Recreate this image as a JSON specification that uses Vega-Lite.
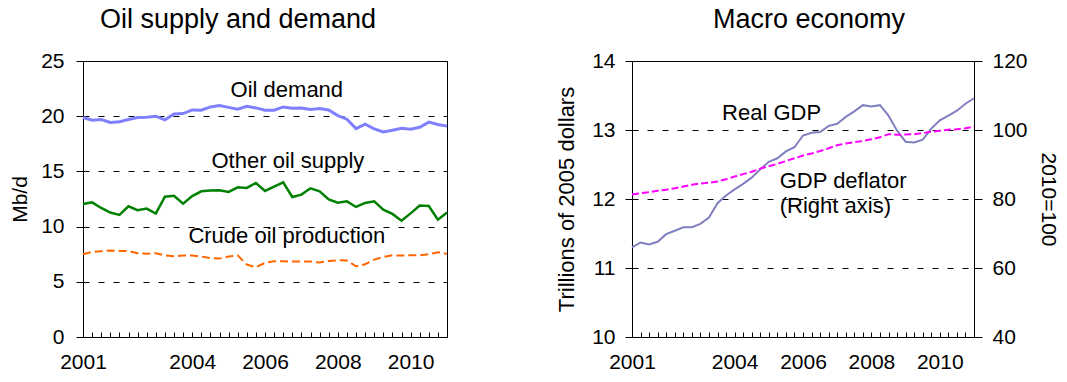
{
  "$schema": "https://vega.github.io/schema/vega-lite/v6.json",
  "padding": {"left": 9, "top": 5, "right": 8, "bottom": 0},
  "spacing": 101,
  "config": {
    "font": "Liberation Sans",
    "view": {"stroke": "black", "strokeWidth": 1},
    "axis": {"labelFont": "Liberation Sans", "labelFontSize": 21, "labelColor": "black", "titleFont": "Liberation Sans", "titleFontSize": 21, "titleFontWeight": "normal", "titleColor": "black", "domainColor": "black", "tickColor": "black", "grid": false},
    "title": {"font": "Liberation Sans", "fontSize": 27, "fontWeight": "normal", "color": "black", "anchor": "middle"},
    "text": {"font": "Liberation Sans"}
  },
  "datasets": {
    "series": [
      {"t": 2001, "demand": 19.88, "other": 12.05, "crude": 7.5, "gdp": 11.30, "deflator": 81.3},
      {"t": 2001.25, "demand": 19.64, "other": 12.2, "crude": 7.71, "gdp": 11.37, "deflator": 81.7},
      {"t": 2001.5, "demand": 19.7, "other": 11.69, "crude": 7.77, "gdp": 11.34, "deflator": 82.0},
      {"t": 2001.75, "demand": 19.43, "other": 11.27, "crude": 7.83, "gdp": 11.38, "deflator": 82.4},
      {"t": 2002, "demand": 19.5, "other": 11.06, "crude": 7.8, "gdp": 11.49, "deflator": 82.7},
      {"t": 2002.25, "demand": 19.7, "other": 11.84, "crude": 7.8, "gdp": 11.54, "deflator": 83.1},
      {"t": 2002.5, "demand": 19.88, "other": 11.48, "crude": 7.59, "gdp": 11.59, "deflator": 83.6},
      {"t": 2002.75, "demand": 19.9, "other": 11.63, "crude": 7.53, "gdp": 11.59, "deflator": 84.1},
      {"t": 2003, "demand": 20.0, "other": 11.18, "crude": 7.59, "gdp": 11.64, "deflator": 84.5},
      {"t": 2003.25, "demand": 19.67, "other": 12.71, "crude": 7.38, "gdp": 11.73, "deflator": 84.7},
      {"t": 2003.5, "demand": 20.2, "other": 12.8, "crude": 7.32, "gdp": 11.94, "deflator": 85.1},
      {"t": 2003.75, "demand": 20.24, "other": 12.08, "crude": 7.38, "gdp": 12.05, "deflator": 85.7},
      {"t": 2004, "demand": 20.57, "other": 12.77, "crude": 7.38, "gdp": 12.14, "deflator": 86.5},
      {"t": 2004.25, "demand": 20.54, "other": 13.2, "crude": 7.29, "gdp": 12.22, "deflator": 87.2},
      {"t": 2004.5, "demand": 20.84, "other": 13.26, "crude": 7.14, "gdp": 12.31, "deflator": 87.9},
      {"t": 2004.75, "demand": 20.96, "other": 13.29, "crude": 7.1, "gdp": 12.43, "deflator": 88.8},
      {"t": 2005, "demand": 20.8, "other": 13.14, "crude": 7.29, "gdp": 12.54, "deflator": 89.5},
      {"t": 2005.25, "demand": 20.63, "other": 13.56, "crude": 7.4, "gdp": 12.59, "deflator": 90.2},
      {"t": 2005.5, "demand": 20.9, "other": 13.5, "crude": 6.56, "gdp": 12.69, "deflator": 91.0},
      {"t": 2005.75, "demand": 20.75, "other": 13.95, "crude": 6.32, "gdp": 12.75, "deflator": 91.8},
      {"t": 2006, "demand": 20.54, "other": 13.23, "crude": 6.71, "gdp": 12.92, "deflator": 92.6},
      {"t": 2006.25, "demand": 20.54, "other": 13.62, "crude": 6.86, "gdp": 12.96, "deflator": 93.2},
      {"t": 2006.5, "demand": 20.84, "other": 14.0, "crude": 6.86, "gdp": 12.97, "deflator": 93.9},
      {"t": 2006.75, "demand": 20.72, "other": 12.68, "crude": 6.83, "gdp": 13.06, "deflator": 94.7},
      {"t": 2007, "demand": 20.75, "other": 12.9, "crude": 6.83, "gdp": 13.09, "deflator": 95.6},
      {"t": 2007.25, "demand": 20.6, "other": 13.47, "crude": 6.83, "gdp": 13.19, "deflator": 96.1},
      {"t": 2007.5, "demand": 20.7, "other": 13.2, "crude": 6.74, "gdp": 13.27, "deflator": 96.5},
      {"t": 2007.75, "demand": 20.57, "other": 12.47, "crude": 6.89, "gdp": 13.36, "deflator": 96.8},
      {"t": 2008, "demand": 20.06, "other": 12.17, "crude": 6.95, "gdp": 13.34, "deflator": 97.3},
      {"t": 2008.25, "demand": 19.73, "other": 12.29, "crude": 6.92, "gdp": 13.36, "deflator": 97.9},
      {"t": 2008.5, "demand": 18.88, "other": 11.78, "crude": 6.41, "gdp": 13.21, "deflator": 98.8},
      {"t": 2008.75, "demand": 19.28, "other": 12.14, "crude": 6.59, "gdp": 12.99, "deflator": 98.6},
      {"t": 2009, "demand": 18.85, "other": 12.29, "crude": 7.01, "gdp": 12.83, "deflator": 98.7},
      {"t": 2009.25, "demand": 18.58, "other": 11.54, "crude": 7.26, "gdp": 12.82, "deflator": 98.8},
      {"t": 2009.5, "demand": 18.73, "other": 11.15, "crude": 7.4, "gdp": 12.86, "deflator": 99.1},
      {"t": 2009.75, "demand": 18.91, "other": 10.54, "crude": 7.38, "gdp": 13.02, "deflator": 99.5},
      {"t": 2010, "demand": 18.82, "other": 11.2, "crude": 7.4, "gdp": 13.14, "deflator": 99.8},
      {"t": 2010.25, "demand": 19.0, "other": 11.9, "crude": 7.4, "gdp": 13.21, "deflator": 100.1},
      {"t": 2010.5, "demand": 19.46, "other": 11.87, "crude": 7.5, "gdp": 13.28, "deflator": 100.2},
      {"t": 2010.75, "demand": 19.25, "other": 10.63, "crude": 7.68, "gdp": 13.38, "deflator": 100.5},
      {"t": 2011, "demand": 19.1, "other": 11.27, "crude": 7.53, "gdp": 13.46, "deflator": 101.0}
    ],
    "oilLabels": [
      {"t": 2006.6, "v": 21.74, "label": "Oil demand"},
      {"t": 2006.63, "v": 15.28, "label": "Other oil supply"},
      {"t": 2006.6, "v": 8.54, "label": "Crude oil production"}
    ],
    "macroCenter": [
      {"t": 2005.08, "v": 13.14, "label": "Real GDP"}
    ],
    "macroLeft": [
      {"t": 2005.32, "v": 12.16, "label": "GDP deflator"},
      {"t": 2005.32, "v": 11.79, "label": "(Right axis)"}
    ]
  },
  "hconcat": [
    {
      "title": {"text": "Oil supply and demand", "offset": 16, "dx": -27},
      "width": 364,
      "height": 276,
      "data": {"name": "series"},
      "encoding": {
        "x": {"field": "t", "type": "quantitative", "scale": {"domain": [2001, 2011], "nice": false, "zero": false},
          "axis": {"title": null, "values": [2001, 2001.25, 2001.5, 2001.75, 2002, 2002.25, 2002.5, 2002.75, 2003, 2003.25, 2003.5, 2003.75, 2004, 2004.25, 2004.5, 2004.75, 2005, 2005.25, 2005.5, 2005.75, 2006, 2006.25, 2006.5, 2006.75, 2007, 2007.25, 2007.5, 2007.75, 2008, 2008.25, 2008.5, 2008.75, 2009, 2009.25, 2009.5, 2009.75, 2010, 2010.25, 2010.5, 2010.75, 2011],
            "labelExpr": "indexof([2001, 2004, 2006, 2008, 2010], datum.value) >= 0 ? format(datum.value, 'd') : ''",
            "tickSize": -5, "labelPadding": 19, "labelOverlap": false, "labelFlush": false, "grid": false}}
      },
      "layer": [
        {
          "mark": {"type": "line", "color": "#8080FF", "strokeWidth": 3},
          "encoding": {
            "y": {"field": "demand", "type": "quantitative", "scale": {"domain": [0, 25], "nice": false},
              "axis": {"title": "Mb/d", "values": [0, 5, 10, 15, 20, 25], "format": "d", "tickSize": 7, "labelPadding": 12, "titlePadding": 10, "grid": true, "gridDash": [6, 9], "gridColor": "black", "gridWidth": 1}}
          }
        },
        {
          "mark": {"type": "line", "color": "#008000", "strokeWidth": 2.5},
          "encoding": {
            "y": {"field": "other", "type": "quantitative"}
          }
        },
        {
          "mark": {"type": "line", "color": "#FF6600", "strokeWidth": 2, "strokeDash": [8, 4]},
          "encoding": {
            "y": {"field": "crude", "type": "quantitative"}
          }
        },
        {
          "data": {"name": "oilLabels"},
          "mark": {"type": "text", "fontSize": 22, "align": "center", "baseline": "alphabetic", "color": "black"},
          "encoding": {
            "y": {"field": "v", "type": "quantitative"},
            "text": {"field": "label"}
          }
        }
      ]
    },
    {
      "title": {"text": "Macro economy", "offset": 16, "dx": 6},
      "width": 342,
      "height": 276,
      "encoding": {
        "x": {"field": "t", "type": "quantitative", "scale": {"domain": [2001, 2011], "nice": false, "zero": false},
          "axis": {"title": null, "values": [2001, 2001.25, 2001.5, 2001.75, 2002, 2002.25, 2002.5, 2002.75, 2003, 2003.25, 2003.5, 2003.75, 2004, 2004.25, 2004.5, 2004.75, 2005, 2005.25, 2005.5, 2005.75, 2006, 2006.25, 2006.5, 2006.75, 2007, 2007.25, 2007.5, 2007.75, 2008, 2008.25, 2008.5, 2008.75, 2009, 2009.25, 2009.5, 2009.75, 2010, 2010.25, 2010.5, 2010.75, 2011],
            "labelExpr": "indexof([2001, 2004, 2006, 2008, 2010], datum.value) >= 0 ? format(datum.value, 'd') : ''",
            "tickSize": -5, "labelPadding": 19, "labelOverlap": false, "labelFlush": false, "grid": false}}
      },
      "layer": [
        {
          "layer": [
            {
              "data": {"name": "series"},
              "mark": {"type": "line", "color": "#8080C0", "strokeWidth": 2},
              "encoding": {
                "y": {"field": "gdp", "type": "quantitative", "scale": {"domain": [10, 14], "nice": false, "zero": false},
                  "axis": {"title": "Trillions of 2005 dollars", "titleFontSize": 22, "values": [10, 11, 12, 13, 14], "format": "d", "tickSize": 7, "labelPadding": 10, "titlePadding": 13, "grid": true, "gridDash": [6, 9], "gridColor": "black", "gridWidth": 1}}
              }
            },
            {
              "data": {"name": "macroCenter"},
              "mark": {"type": "text", "fontSize": 22, "align": "center", "baseline": "alphabetic", "color": "black"},
              "encoding": {
                "y": {"field": "v", "type": "quantitative"},
                "text": {"field": "label"}
              }
            },
            {
              "data": {"name": "macroLeft"},
              "mark": {"type": "text", "fontSize": 22, "align": "left", "baseline": "alphabetic", "color": "black"},
              "encoding": {
                "y": {"field": "v", "type": "quantitative"},
                "text": {"field": "label"}
              }
            }
          ]
        },
        {
          "data": {"name": "series"},
          "mark": {"type": "line", "color": "#FF00FF", "strokeWidth": 2, "strokeDash": [7, 3]},
          "encoding": {
            "y": {"field": "deflator", "type": "quantitative", "scale": {"domain": [40, 120], "nice": false, "zero": false},
              "axis": {"orient": "right", "title": "2010=100", "values": [40, 60, 80, 100, 120], "format": "d", "tickSize": 8, "labelPadding": 10, "titlePadding": 10, "grid": false}}
          }
        }
      ],
      "resolve": {"scale": {"y": "independent"}}
    }
  ]
}
